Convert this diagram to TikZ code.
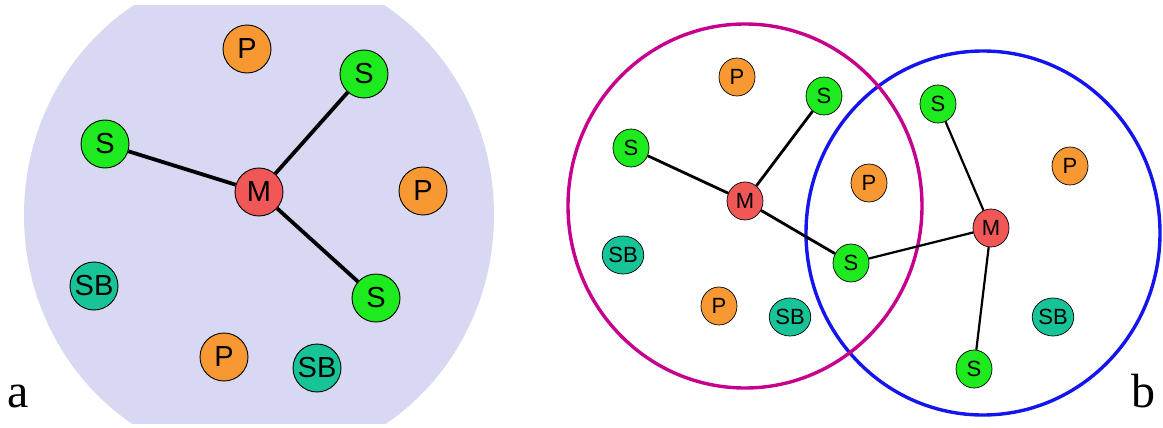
\documentclass[tikz,border=0pt]{standalone}
\usepackage{fontspec}
\setmainfont{Liberation Serif}
\setsansfont{Liberation Sans}
\usetikzlibrary{shapes.geometric}
\definecolor{lav}{RGB}{216,216,242}
\definecolor{nodeP}{RGB}{247,152,50}
\definecolor{nodeS}{RGB}{30,235,30}
\definecolor{nodeM}{RGB}{240,88,88}
\definecolor{nodeSB}{RGB}{22,196,152}
\definecolor{magring}{RGB}{198,0,140}
\definecolor{bluering}{RGB}{20,20,238}
\tikzset{
  bigdev/.style={circle, draw=black, line width=0.9pt, minimum size=48pt, inner sep=0pt,
    font=\sffamily\fontsize{29}{29}\selectfont},
  smalldev/.style={ellipse, draw=black, line width=0.7pt, minimum width=36pt, minimum height=38pt, inner sep=0pt,
    font=\sffamily\fontsize{22}{22}\selectfont},
  pnode/.style={fill=nodeP},
  snode/.style={fill=nodeS},
  mnode/.style={fill=nodeM},
  sbnode/.style={fill=nodeSB},
  thicklink/.style={draw=black, line width=3.8pt},
  midlink/.style={draw=black, line width=2.8pt},
  thinlink/.style={draw=black, line width=2.2pt},
  ring/.style={line width=3.4pt},
  panellabel/.style={font=\fontsize{48}{48}\selectfont, inner sep=0pt, anchor=base west}
}
\begin{document}
\begin{tikzpicture}[x=1pt,y=-1pt]
\useasboundingbox (0,0) rectangle (1163,428);
% ---- panel a ----
\begin{scope}
  \clip (0,6) rectangle (1163,423);
  \fill[lav] (259,215) ellipse [x radius=235pt, y radius=248pt];
\end{scope}
\node[bigdev,pnode] (aP1) at (247,49) {P};
\node[bigdev,snode] (aS1) at (364,74) {S};
\node[bigdev,snode] (aS2) at (105,144) {S};
\node[bigdev,mnode] (aM) at (259,192) {M};
\node[bigdev,pnode] (aP2) at (423,191) {P};
\node[bigdev,sbnode] (aSB1) at (94,286) {SB};
\node[bigdev,snode] (aS3) at (376,298) {S};
\node[bigdev,pnode] (aP3) at (224,357) {P};
\node[bigdev,sbnode] (aSB2) at (317,368) {SB};
\draw[thicklink] (aM) -- (aS1);
\draw[thicklink] (aM) -- (aS2);
\draw[thicklink] (aM) -- (aS3);
\node[panellabel] (la) at (7,407) {a};
% ---- panel b ----
\draw[ring, draw=bluering] (983,233) ellipse [x radius=177pt, y radius=182pt];
\draw[ring, draw=magring] (745,206) ellipse [x radius=177pt, y radius=182pt];
\node[smalldev,pnode] (bP1) at (737,77) {P};
\node[smalldev,snode] (bS1) at (824,96) {S};
\node[smalldev,snode] (bS2) at (631,148) {S};
\node[smalldev,mnode] (bM1) at (745,201) {M};
\node[smalldev,pnode] (bP2) at (869,183) {P};
\node[smalldev,sbnode] (bSB1) at (623,255) {SB};
\node[smalldev,snode] (bS3) at (851,263) {S};
\node[smalldev,pnode] (bP3) at (719,306) {P};
\node[smalldev,sbnode] (bSB2) at (790,317) {SB};
\node[smalldev,snode] (bS4) at (938,104) {S};
\node[smalldev,pnode] (bP4) at (1070,166) {P};
\node[smalldev,mnode] (bM2) at (991,228) {M};
\node[smalldev,sbnode] (bSB3) at (1053,317) {SB};
\node[smalldev,snode] (bS5) at (974,369) {S};
\draw[midlink] (bM1) -- (bS1);
\draw[midlink] (bM1) -- (bS2);
\draw[midlink] (bM1) -- (bS3);
\draw[thinlink] (bS3) -- (bM2);
\draw[thinlink] (bM2) -- (bS4);
\draw[thinlink] (bM2) -- (bS5);
\node[panellabel] (lb) at (1131,407) {b};
\end{tikzpicture}
\end{document}
